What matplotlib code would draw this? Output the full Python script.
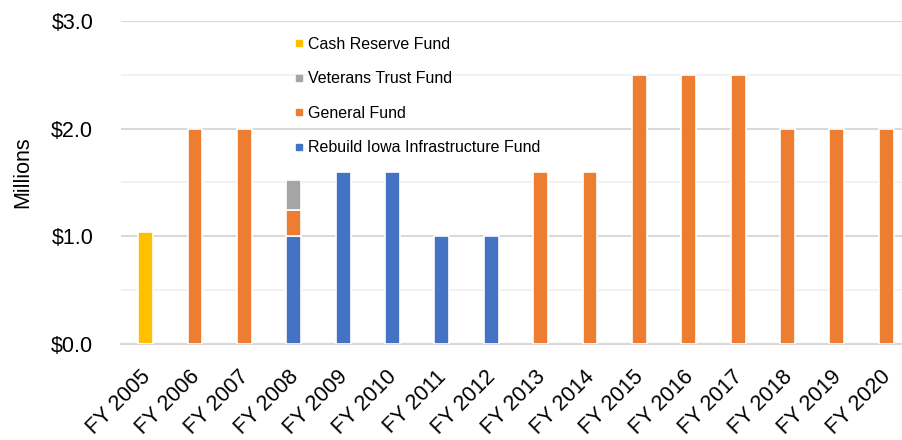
import matplotlib
matplotlib.use("Agg")
import matplotlib.pyplot as plt
from matplotlib.lines import Line2D
from matplotlib.ticker import MultipleLocator, FuncFormatter
import matplotlib.transforms as mtransforms
import numpy as np

plt.rcParams['font.family'] = ['Liberation Sans', 'DejaVu Sans']

years = ["FY 2005", "FY 2006", "FY 2007", "FY 2008", "FY 2009", "FY 2010",
         "FY 2011", "FY 2012", "FY 2013", "FY 2014", "FY 2015", "FY 2016",
         "FY 2017", "FY 2018", "FY 2019", "FY 2020"]
rebuild_iowa = [0, 0, 0, 1.0, 1.6, 1.6, 1.0, 1.0, 0, 0, 0, 0, 0, 0, 0, 0]
general_fund = [0, 2.0, 2.0, 0.24, 0, 0, 0, 0, 1.6, 1.6, 2.5, 2.5, 2.5, 2.0, 2.0, 2.0]
veterans_trust = [0, 0, 0, 0.28, 0, 0, 0, 0, 0, 0, 0, 0, 0, 0, 0, 0]
cash_reserve = [1.04, 0, 0, 0, 0, 0, 0, 0, 0, 0, 0, 0, 0, 0, 0, 0]

series = [
    ("Rebuild Iowa Infrastructure Fund", rebuild_iowa, "#4472C4"),
    ("General Fund", general_fund, "#ED7D31"),
    ("Veterans Trust Fund", veterans_trust, "#A5A5A5"),
    ("Cash Reserve Fund", cash_reserve, "#FFC000"),
]

W, H = 902, 440
fig = plt.figure(figsize=(W / 100, H / 100), dpi=100)
ax_left, ax_right, ax_top, ax_bottom = 121, 902, 21, 344
ax = fig.add_axes([ax_left / W, (H - ax_bottom) / H,
                   (ax_right - ax_left) / W, (ax_bottom - ax_top) / H])

x = np.arange(len(years))
bottom = np.zeros(len(years))
for name, vals, col in series:
    v = np.array(vals, dtype=float)
    mask = v > 0
    ax.bar(x[mask], v[mask], bottom=bottom[mask], width=0.30, color=col,
           edgecolor="white", linewidth=1.2, zorder=3)
    bottom += v

ax.set_xlim(-0.5, 15.32)
ax.set_ylim(0, 3.0)
ax.yaxis.set_major_locator(MultipleLocator(1.0))
ax.yaxis.set_minor_locator(MultipleLocator(0.5))
ax.yaxis.set_major_formatter(FuncFormatter(lambda v, p: f"${v:.1f}"))
ax.grid(axis="y", which="major", color="#D9D9D9", linewidth=1.5, zorder=0)
ax.grid(axis="y", which="minor", color="#F2F2F2", linewidth=1.5, zorder=0)
ax.set_axisbelow(True)

for s in ["top", "right", "left"]:
    ax.spines[s].set_visible(False)
ax.spines["bottom"].set_color("#D9D9D9")
ax.spines["bottom"].set_linewidth(1.5)

ax.set_xticks(x)
ax.set_xticklabels(years, rotation=45, ha="right", rotation_mode="anchor",
                   fontsize=15.5)
ax.tick_params(axis="x", length=0, pad=12)
offset = mtransforms.ScaledTranslation(-6 / 100, -6 / 100, fig.dpi_scale_trans)
for lbl in ax.get_xticklabels():
    lbl.set_transform(lbl.get_transform() + offset)
ax.tick_params(axis="y", which="both", length=0, pad=20, labelsize=15.5)

ax.set_ylabel("Millions", fontsize=15.5)
ax.yaxis.set_label_coords(-(121 - 33) / (ax_right - ax_left),
                          (ax_bottom - 172) / (ax_bottom - ax_top))

handles = [Line2D([], [], marker="s", linestyle="none", color=c,
                  markersize=4) for _, _, c in reversed(series)]
labels = [n for n, _, _ in reversed(series)]
leg = ax.legend(handles, labels, loc="upper left",
                bbox_to_anchor=(295 / W, (H - 37) / H),
                bbox_transform=fig.transFigure, frameon=False,
                fontsize=11.5, handlelength=0.5, handletextpad=0.3,
                labelspacing=1.22, borderaxespad=0, borderpad=0)

fig.savefig("out.png", dpi=100)
